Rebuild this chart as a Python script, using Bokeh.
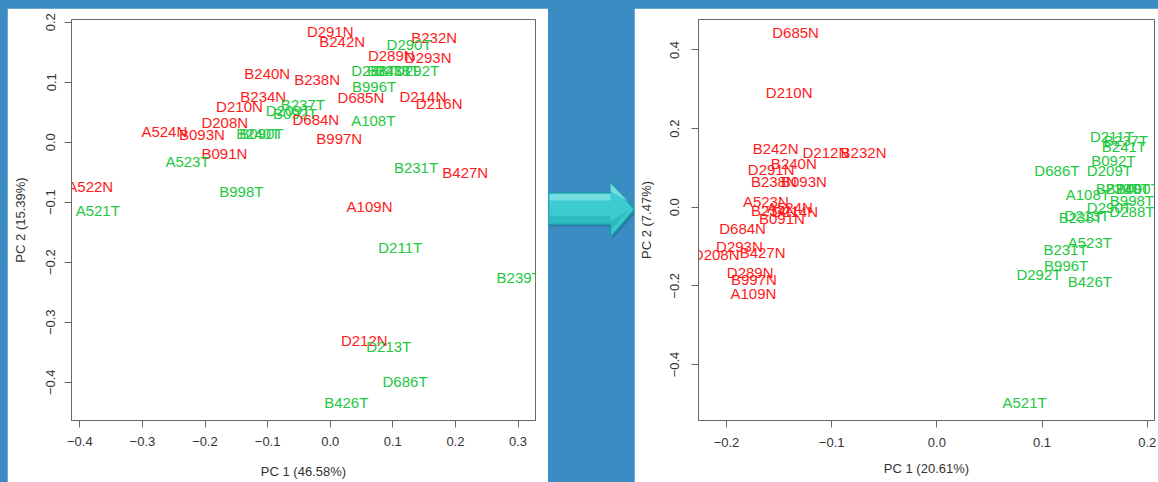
from bokeh.plotting import figure
from bokeh.models import ColumnDataSource, Range1d, FixedTicker, CustomJSTickFormatter, Spacer
from bokeh.layouts import row, column
from bokeh.transform import factor_cmap
from bokeh.core.properties import value
from bokeh.embed import file_html
from bokeh.resources import INLINE

# ---------------- data: left PCA (PC1 46.58 %, PC2 15.39 %) ----------------
left_labels = ["D291N", "B242N", "B232N", "D290T", "D289N", "D293N", "D288T", "B241T",
               "B238T", "D292T", "B240N", "B238N", "B996T", "B234N", "D685N", "D214N",
               "D216N", "D210N", "B237T", "D209T", "B092T", "D684N", "A108T", "D208N",
               "A524N", "B093N", "B240T", "B090T", "B997N", "B091N", "A523T", "B231T",
               "B427N", "A522N", "B998T", "A109N", "A521T", "D211T", "B239T", "D212N",
               "D213T", "D686T", "B426T"]
left_pc1 = [0.000, 0.019, 0.166, 0.126, 0.0975, 0.1565, 0.0695, 0.094,
            0.107, 0.138, -0.1006, -0.021, 0.070, -0.107, 0.049, 0.148,
            0.174, -0.145, -0.0437, -0.067, -0.056, -0.023, 0.0687, -0.1685,
            -0.265, -0.205, -0.115, -0.110, 0.0144, -0.169, -0.228, 0.137,
            0.2157, -0.3834, -0.142, 0.0628, -0.3714, 0.1118, 0.301, 0.0543,
            0.0935, 0.1195, 0.0256]
left_pc2 = [0.181, 0.165, 0.172, 0.160, 0.142, 0.138, 0.1167, 0.116,
            0.116, 0.1167, 0.111, 0.101, 0.089, 0.073, 0.0707, 0.0723,
            0.062, 0.057, 0.0595, 0.0495, 0.0445, 0.035, 0.0333, 0.0295,
            0.015, 0.010, 0.011, 0.011, 0.0028, -0.022, -0.035, -0.0455,
            -0.0538, -0.0777, -0.085, -0.111, -0.1177, -0.1788, -0.2293, -0.3333,
            -0.3443, -0.4027, -0.4377]
left_xticks = [-0.4, -0.3, -0.2, -0.1, 0.0, 0.1, 0.2, 0.3]
left_yticks = [-0.4, -0.3, -0.2, -0.1, 0.0, 0.1, 0.2]
left_xlabel = "PC 1 (46.58%)"
left_ylabel = "PC 2 (15.39%)"

# ---------------- data: right PCA (PC1 20.61 %, PC2 7.47 %) ----------------
right_labels = ["D685N", "D210N", "B242N", "D212N", "B232N", "B240N", "D291N", "B238N",
                "B093N", "A523N", "B234N", "A524N", "D214N", "B091N", "D684N", "D293N",
                "D208N", "B427N", "D289N", "B997N", "A109N", "D211T", "B237T", "B241T",
                "B092T", "D686T", "D209T", "A108T", "B239T", "B240T", "B090T", "B998T",
                "D290T", "D288T", "B238T", "D213T", "A523T", "B231T", "B996T", "D292T",
                "B426T", "A521T"]
right_pc1 = [-0.1343, -0.1404, -0.1533, -0.1055, -0.0697, -0.136, -0.1575, -0.155,
             -0.1264, -0.1626, -0.155, -0.1397, -0.135, -0.1473, -0.1847, -0.1877,
             -0.2098, -0.1657, -0.1775, -0.174, -0.1744, 0.1664, 0.1797, 0.1778,
             0.1678, 0.1141, 0.164, 0.1435, 0.172, 0.1816, 0.191, 0.1854,
             0.164, 0.1854, 0.1369, 0.1426, 0.1454, 0.1223, 0.1229, 0.097,
             0.1454, 0.0834]
right_pc2 = [0.440, 0.2875, 0.1443, 0.135, 0.1335, 0.1068, 0.090, 0.061,
             0.061, 0.0085, -0.0133, -0.0058, -0.017, -0.0333, -0.0583, -0.104,
             -0.125, -0.1208, -0.1708, -0.190, -0.2233, 0.175, 0.165, 0.150,
             0.1125, 0.0893, 0.0893, 0.0268, 0.0418, 0.0418, 0.0418, 0.0125,
             -0.0065, -0.015, -0.0315, -0.025, -0.0958, -0.1125, -0.154, -0.1765,
             -0.194, -0.5025]
right_xticks = [-0.2, -0.1, 0.0, 0.1, 0.2]
right_yticks = [-0.4, -0.2, 0.0, 0.2, 0.4]
right_xlabel = "PC 1 (20.61%)"
right_ylabel = "PC 2 (7.47%)"

groups = ["N", "T"]

# ---------------- styles ----------------
RED = "#ff1a1a"
GREEN = "#22c840"
BOX = "#666666"
TXT = "#333333"
BLUE = "#3b8cc3"
FONT = "Liberation Sans"

fmt_code = "return (tick < 0 ? '\\u2212' : '') + Math.abs(tick).toFixed(1);"


def pca_panel(labels, pc1, pc2, xticks, yticks, xlabel, ylabel, width, height,
              borders, xr, yr, xstand, ystand, xtstand, ytstand):
    bl, br, bt, bb = borders
    p = figure(width=width, height=height, x_range=Range1d(*xr), y_range=Range1d(*yr),
               output_backend="svg", toolbar_location=None, title=None,
               min_border_left=bl, min_border_right=br, min_border_top=bt,
               min_border_bottom=bb)
    p.grid.visible = False
    p.background_fill_color = "white"
    p.border_fill_color = "white"
    p.outline_line_color = BOX
    p.outline_line_width = 1
    for ax, ticks, lab in ((p.xaxis[0], xticks, xlabel), (p.yaxis[0], yticks, ylabel)):
        ax.ticker = FixedTicker(ticks=ticks)
        ax.formatter = CustomJSTickFormatter(code=fmt_code)
        ax.minor_tick_line_color = None
        ax.major_tick_out = 7
        ax.major_tick_in = 0
        ax.axis_line_color = BOX
        ax.major_tick_line_color = BOX
        ax.major_label_text_font = FONT
        ax.major_label_text_font_size = "13px"
        ax.major_label_text_color = TXT
        ax.axis_label = lab
        ax.axis_label_text_font = FONT
        ax.axis_label_text_font_size = "13px"
        ax.axis_label_text_font_style = "normal"
        ax.axis_label_text_color = TXT
    p.xaxis[0].major_label_standoff = xstand
    p.yaxis[0].major_label_standoff = ystand
    p.xaxis[0].axis_label_standoff = xtstand
    p.yaxis[0].axis_label_standoff = ytstand
    p.yaxis[0].major_label_orientation = "vertical"
    src = ColumnDataSource(dict(x=pc1, y=pc2, label=labels,
                                group=[s[-1] for s in labels]))
    p.text(x="x", y="y", text="label", source=src, text_align="center",
           text_baseline="middle", text_font=value(FONT), text_font_size="15px",
           y_offset=-2,
           text_color=factor_cmap("group", [RED, GREEN], groups))
    return p


left = pca_panel(left_labels, left_pc1, left_pc2, left_xticks, left_yticks,
                 left_xlabel, left_ylabel, 541, 474, (64, 13, 11, 62),
                 (-0.4133, 0.3279), (-0.4638, 0.2045), 9, 9, 15, 16)

right = pca_panel(right_labels, right_pc1, right_pc2, right_xticks, right_yticks,
                  right_xlabel, right_ylabel, 524, 474, (64, 4, 7, 59),
                  (-0.2266, 0.2069), (-0.5425, 0.4775), 10, 12, 11, 14)

# ---------------- arrow between the panels ----------------
mid = figure(width=86, height=474, x_range=Range1d(0, 86), y_range=Range1d(474, 0),
             output_backend="svg", toolbar_location=None, title=None,
             x_axis_location=None, y_axis_location=None, min_border=0)
mid.grid.visible = False
mid.outline_line_color = None
mid.background_fill_color = None
mid.border_fill_color = BLUE
mid.patch(x=[2, 64, 64, 88, 64, 64, 2], y=[208, 208, 195, 227.5, 260, 245, 245],
          fill_color="#1f5f8a", fill_alpha=0.45, line_color=None)
mid.patch(x=[0, 62, 62, 86, 62, 62, 0], y=[205, 205, 192, 224.5, 257, 242, 242],
          fill_color="#3ccbd0", line_color="#1b9ea8", line_width=1.5)
mid.patch(x=[1, 62, 62, 80, 62, 62, 1], y=[206, 206, 194, 215, 203, 214, 214],
          fill_color="#a6eff1", fill_alpha=0.55, line_color=None)
mid.patch(x=[1, 62, 62, 80, 62, 62, 1], y=[232, 232, 238, 226, 250, 241, 241],
          fill_color="#1aa9b2", fill_alpha=0.45, line_color=None)

layout = column(Spacer(width=1158, height=8),
                row(Spacer(width=7, height=474), left, mid, right, spacing=0),
                spacing=0, styles={"background-color": BLUE})

open("out.html", "w").write(file_html(layout, INLINE))
